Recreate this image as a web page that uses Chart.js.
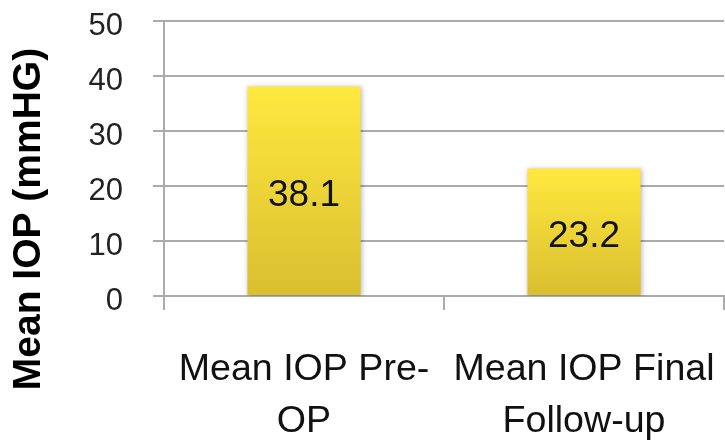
<!DOCTYPE html>
<html>
<head>
<meta charset="utf-8">
<script src="https://cdn.jsdelivr.net/npm/chart.js@4/dist/chart.umd.min.js"></script>
<style>
  html, body { margin: 0; padding: 0; background: #ffffff; }
  #wrap { width: 725px; height: 442px; }
</style>
</head>
<body>
<div id="wrap"><canvas id="chart" width="725" height="442"></canvas></div>
<script>
// Chart data
const categories = [['Mean IOP Pre-', 'OP'], ['Mean IOP Final', 'Follow-up']];
const meanIOP = [38.1, 23.2];
const yTicks = [0, 10, 20, 30, 40, 50];
const yTitle = 'Mean IOP (mmHG)';

const FONT = '"Liberation Sans", Arial, Helvetica, sans-serif';
const GRID = '#ababab';

// Vertical yellow gradient per bar, from its top down to the baseline
function barGradient(context) {
  const chart = context.chart;
  const y = chart.scales && chart.scales.y;
  if (!y || context.parsed == null) return '#f0d83a';
  const top = y.getPixelForValue(context.parsed.y);
  const bottom = y.getPixelForValue(0);
  if (!isFinite(top) || !isFinite(bottom) || top === bottom) return '#f0d83a';
  const g = chart.ctx.createLinearGradient(0, top, 0, bottom);
  g.addColorStop(0, '#ffe93f');
  g.addColorStop(1, '#d9be2f');
  return g;
}

// Keep the plot area fixed: no extra room reserved for overhanging labels
function noOverhang(scale) {
  scale.paddingTop = 0;
  scale.paddingBottom = 0;
  scale.paddingLeft = 0;
  scale.paddingRight = 0;
}

// Soft drop shadow behind the bars
const barShadow = {
  id: 'barShadow',
  beforeDatasetsDraw(chart) {
    const ctx = chart.ctx;
    ctx.save();
    ctx.shadowColor = 'rgba(0,0,0,0.28)';
    ctx.shadowBlur = 5;
    ctx.shadowOffsetX = 1;
    ctx.shadowOffsetY = 1;
  },
  afterDatasetsDraw(chart) {
    chart.ctx.restore();
  }
};

// Value written in the middle of each bar
const barValues = {
  id: 'barValues',
  afterDatasetsDraw(chart) {
    const ctx = chart.ctx;
    const meta = chart.getDatasetMeta(0);
    ctx.save();
    ctx.font = '37px ' + FONT;
    ctx.fillStyle = '#111111';
    ctx.textAlign = 'center';
    ctx.textBaseline = 'middle';
    meta.data.forEach((bar, i) => {
      const v = chart.data.datasets[0].data[i];
      ctx.fillText(v.toFixed(1), bar.x, (bar.y + bar.base) / 2 + 5);
    });
    ctx.restore();
  }
};

// Rotated y-axis title
const yAxisTitle = {
  id: 'yAxisTitle',
  afterDraw(chart) {
    const ctx = chart.ctx;
    ctx.save();
    ctx.translate(29, 219);
    ctx.rotate(-Math.PI / 2);
    ctx.font = 'bold 39px ' + FONT;
    ctx.fillStyle = '#000000';
    ctx.textAlign = 'center';
    ctx.textBaseline = 'middle';
    ctx.fillText(yTitle, 0, 0);
    ctx.restore();
  }
};

new Chart(document.getElementById('chart'), {
  type: 'bar',
  data: {
    labels: categories,
    datasets: [{
      data: meanIOP,
      backgroundColor: barGradient,
      borderWidth: 0,
      categoryPercentage: 1.0,
      barPercentage: 0.404
    }]
  },
  options: {
    responsive: false,
    devicePixelRatio: 1,
    animation: false,
    layout: { padding: { top: 21, right: 1, left: 0, bottom: 0 } },
    plugins: {
      legend: { display: false },
      tooltip: { enabled: false },
      title: { display: false }
    },
    scales: {
      x: {
        grid: {
          display: true,
          drawOnChartArea: false,
          drawTicks: true,
          tickLength: 14,
          color: GRID,
          lineWidth: 2,
          offset: true
        },
        border: { display: true, color: GRID, width: 2 },
        ticks: {
          color: '#111111',
          font: { family: FONT, size: 37.6, lineHeight: 1.37 },
          padding: 34,
          maxRotation: 0,
          minRotation: 0,
          autoSkip: false
        },
        afterFit(scale) { scale.height = 146; noOverhang(scale); }
      },
      y: {
        min: 0,
        max: 50,
        afterBuildTicks(scale) {
          scale.ticks = yTicks.map(v => ({ value: v }));
        },
        grid: {
          color: GRID,
          lineWidth: 2,
          tickLength: 11,
          drawTicks: true
        },
        border: { display: true, color: GRID, width: 2 },
        ticks: {
          color: '#222222',
          font: { family: FONT, size: 31 },
          padding: 30,
          labelOffset: 5
        },
        title: { display: false },
        afterFit(scale) { scale.width = 164; noOverhang(scale); }
      }
    }
  },
  plugins: [barShadow, barValues, yAxisTitle]
});
</script>
</body>
</html>
